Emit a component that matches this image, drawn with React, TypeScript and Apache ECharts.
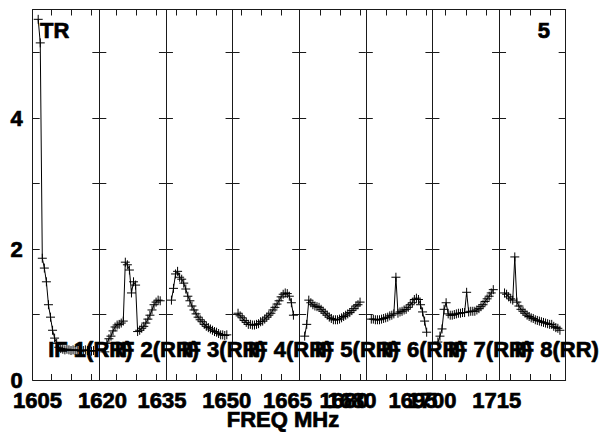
import { useEffect, useRef } from 'react';
import * as echarts from 'echarts';

// ---- data ----
const ifNames = ['IF 1(RR)', 'IF 2(RR)', 'IF 3(RR)', 'IF 4(RR)', 'IF 5(RR)', 'IF 6(RR)', 'IF 7(RR)', 'IF 8(RR)'];
const ifStartMHz = [1600.42, 1615.83, 1632.37, 1647.92, 1659.75, 1675.0, 1691.67, 1707.08];
const bandMHz = 16.65;
const chanStartMHz = 1.375;
const chanStepMHz = 0.5125;

const if1 = [5.51, 5.15, 1.86, 1.71, 1.5, 1.15, 0.96, 0.76, 0.64, 0.56, 0.5, 0.48, 0.47, 0.46, 0.47, 0.46, 0.45, 0.46, 0.45, 0.46, 0.45, 0.44, 0.45, 0.46, 0.45, 0.45, 0.44, 0.45];
const if2 = [0.43, 0.56, 0.63, 0.67, 0.75, 0.81, 0.84, 0.85, 0.87, 0.9, 1.8, 1.76, 1.68, 1.33, 1.5, 1.45, 0.74, 0.76, 0.79, 0.82, 0.87, 0.93, 0.99, 1.07, 1.15, 1.19, 1.22, 1.21];
const if3 = [1.22, 1.4, 1.62, 1.66, 1.57, 1.54, 1.48, 1.39, 1.28, 1.21, 1.13, 1.07, 1.01, 0.96, 0.92, 0.89, 0.85, 0.82, 0.8, 0.78, 0.76, 0.74, 0.73, 0.71, 0.69, 0.69, 0.68, 0.69];
const if4 = [1.02, 0.98, 0.95, 0.91, 0.88, 0.85, 0.85, 0.84, 0.84, 0.85, 0.86, 0.89, 0.9, 0.93, 0.96, 0.99, 1.02, 1.07, 1.11, 1.16, 1.21, 1.27, 1.31, 1.33, 1.32, 1.28, 1.18, 0.99];
const if5 = [0.67, 0.85, 1.22, 1.18, 1.15, 1.13, 1.12, 1.11, 1.08, 1.05, 1.02, 0.99, 0.96, 0.94, 0.92, 0.92, 0.92, 0.93, 0.95, 0.97, 0.99, 1.01, 1.03, 1.06, 1.09, 1.13, 1.15, 1.19];
const if6 = [0.93, 0.93, 0.92, 0.92, 0.92, 0.93, 0.94, 0.95, 0.96, 0.98, 0.99, 1.01, 1.57, 1.02, 1.04, 1.05, 1.07, 1.08, 1.11, 1.15, 1.18, 1.23, 1.25, 1.23, 1.15, 1.04, 0.9, 0.73];
const if7 = [0.58, 0.67, 0.78, 1.08, 1.18, 1.01, 0.99, 0.99, 1.0, 1.01, 1.02, 1.02, 1.03, 1.03, 1.34, 1.04, 1.05, 1.05, 1.05, 1.07, 1.09, 1.12, 1.15, 1.2, 1.24, 1.28, 1.33, 1.38];
const if8 = [1.33, 1.31, 1.27, 1.24, 1.22, 1.88, 1.19, 1.13, 1.08, 1.05, 1.02, 0.99, 0.97, 0.95, 0.94, 0.92, 0.91, 0.9, 0.89, 0.88, 0.87, 0.86, 0.85, 0.85, 0.82, 0.8, 0.79, 0.76];
const ifValues = [if1, if2, if3, if4, if5, if6, if7, if8];

const xTickLabels = ['1605', '1620', '1635', '1650', '1665', '1680', '1680', '1695', '1700', '1715'];
const yTickValues = [0, 1, 2, 3, 4, 5];
const yLabelValues = [0, 2, 4];
const yMax = 5.66;
const xTitle = 'FREQ MHz';
const cornerLeft = 'TR';
const cornerRight = '5';

// ---- layout ----
const PLOT_LEFT = 32.7;
const PANEL_W = 66.62;
const PLOT_TOP = 9.5;
const PLOT_H = 370.5;
const xLabelCenters = [37.5, 102.5, 162, 226.7, 287.5, 344, 352, 413, 432, 496.7];
const FONT = '"Liberation Sans", Arial, Helvetica, sans-serif';
const AXIS_COLOR = '#1a1a1a';
const TEXT_STROKE = 0.7;

function plusPath() {
  return 'path://M5,0 L5,10 M0,5 L10,5';
}

export default function App() {
  const ref = useRef<HTMLDivElement>(null);
  useEffect(() => {
    if (!ref.current) return;
    const chart = echarts.init(ref.current, undefined, { renderer: 'svg' });
    const grids: any[] = [];
    const xAxes: any[] = [];
    const yAxes: any[] = [];
    const series: any[] = [];
    for (let k = 0; k < 8; k++) {
      const left = PLOT_LEFT + k * PANEL_W;
      grids.push({ left, width: PANEL_W, top: PLOT_TOP, height: PLOT_H });
      const s = ifStartMHz[k];
      const e = s + bandMHz;
      const ticks: number[] = [];
      for (let f = Math.ceil(s / 5) * 5; f <= e; f += 5) {
        if (f - s > 0.5 && e - f > 0.5) ticks.push(f);
      }
      for (const pos of ['bottom', 'top']) {
        xAxes.push({
          type: 'value',
          gridIndex: k,
          position: pos,
          min: s,
          max: e,
          axisLine: { show: true, onZero: false, lineStyle: { color: AXIS_COLOR, width: 1 } },
          axisTick: { show: true, inside: true, length: 6, customValues: ticks, lineStyle: { color: AXIS_COLOR } },
          axisLabel: { show: false },
          splitLine: { show: false },
        });
      }
      yAxes.push({
        type: 'value',
        gridIndex: k,
        position: 'left',
        min: 0,
        max: yMax,
        axisLine: { show: true, onZero: false, lineStyle: { color: AXIS_COLOR, width: 1 } },
        axisTick: { show: true, inside: true, length: 7, customValues: yTickValues, lineStyle: { color: AXIS_COLOR } },
        axisLabel: {
          show: k === 0,
          customValues: yLabelValues,
          fontFamily: FONT,
          fontSize: 22,
          fontWeight: 'bold',
          color: '#000',
          textBorderColor: '#000',
          textBorderWidth: TEXT_STROKE,
          margin: 10,
        },
        splitLine: { show: false },
      });
      yAxes.push({
        type: 'value',
        gridIndex: k,
        position: 'right',
        min: 0,
        max: yMax,
        axisLine: { show: k === 7, onZero: false, lineStyle: { color: AXIS_COLOR, width: 1 } },
        axisTick: { show: true, inside: true, length: 7, customValues: yTickValues, lineStyle: { color: AXIS_COLOR } },
        axisLabel: { show: false },
        splitLine: { show: false },
      });
      series.push({
        type: 'line',
        name: ifNames[k],
        xAxisIndex: 2 * k,
        yAxisIndex: 2 * k,
        data: ifValues[k].map((v, i) => [s + chanStartMHz + chanStepMHz * i, v]),
        symbol: plusPath(),
        symbolSize: 9,
        showAllSymbol: true,
        lineStyle: { color: '#000', width: 1 },
        itemStyle: { color: 'none', borderColor: '#000', borderWidth: 1 },
        emphasis: { disabled: true },
      });
    }

    const textEl = (text: string, x: number, y: number, align: string) => ({
      type: 'text',
      x,
      y,
      z: 100,
      style: {
        text,
        fill: '#000',
        stroke: '#000',
        lineWidth: TEXT_STROKE,
        font: `bold 22px ${FONT}`,
        align,
        textAlign: align,
        verticalAlign: 'middle',
        textVerticalAlign: 'middle',
      },
    });

    const graphics: any[] = [];
    ifNames.forEach((n, k) => graphics.push(textEl(n, PLOT_LEFT + 15.5 + k * PANEL_W, 349, 'left')));
    xTickLabels.forEach((t, i) => graphics.push(textEl(t, xLabelCenters[i], 400, 'center')));
    graphics.push(textEl(xTitle, 283, 419.5, 'center'));
    graphics.push(textEl(cornerLeft, 40, 30, 'left'));
    graphics.push(textEl(cornerRight, 550, 30.5, 'right'));

    chart.setOption({
      animation: false,
      backgroundColor: '#fff',
      textStyle: { fontFamily: FONT },
      grid: grids,
      xAxis: xAxes,
      yAxis: yAxes,
      series,
      graphic: graphics,
    });
    return () => chart.dispose();
  }, []);
  return <div ref={ref} style={{ position: 'fixed', left: 0, top: 0, width: 607, height: 432, background: '#fff' }} />;
}
